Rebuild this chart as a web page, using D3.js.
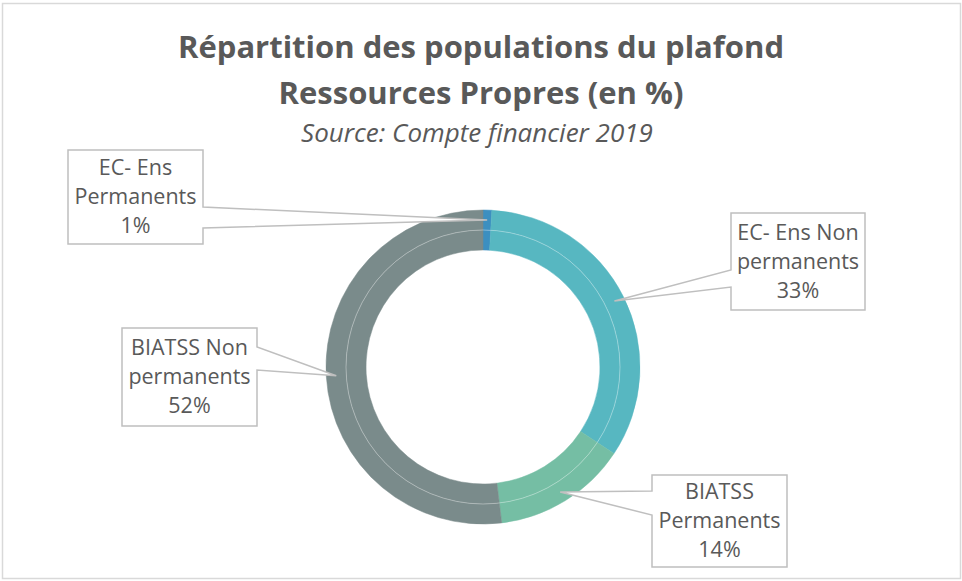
<!DOCTYPE html>
<html>
<head>
<meta charset="utf-8">
<script src="https://cdn.jsdelivr.net/npm/d3@7"></script>
<style>
  body { margin: 0; background: #fff; }
  svg text { font-family: "Open Sans", sans-serif; fill: #595959; }
</style>
</head>
<body>
<div id="donut"></div>
<script>
// data (percent of total)
var categories = ["EC- Ens Permanents", "EC- Ens Non permanents", "BIATSS Permanents", "BIATSS Non permanents"];
var values = [0.9, 33.4, 13.8, 51.9];
// label text as written in each callout
var labelLines = [["EC- Ens", "Permanents"], ["EC- Ens Non", "permanents"], ["BIATSS", "Permanents"], ["BIATSS Non", "permanents"]];
var colors = ["#3c8fc0", "#57b7c1", "#75bea4", "#7a8b8b"];

var titleLines = ["Répartition des populations du plafond", "Ressources Propres (en %)"];
var subtitle = "Source: Compte financier 2019";

// size of the chart
var totalWidth = 962,
  totalHeight = 581,
  cx = 483, cy = 367,
  outerR = 157, innerR = 117;

// callout boxes: position + where the pointer leaves the box
var callouts = [
  {x: 68, y: 150, w: 135, h: 94, side: "right", b1: 57, b2: 78},
  {x: 731, y: 213, w: 134, h: 97, side: "left", b1: 57, b2: 74},
  {x: 652, y: 475, w: 135, h: 92, side: "left", b1: 16, b2: 40},
  {x: 122, y: 328, w: 135, h: 98, side: "right", b1: 19, b2: 42}
];

var svg = d3.select("#donut").append("svg")
    .attr("width", totalWidth)
    .attr("height", totalHeight);

// chart frame
svg.append("rect")
    .attr("x", 2.5).attr("y", 3.5)
    .attr("width", 958).attr("height", 575)
    .attr("fill", "#fff")
    .attr("stroke", "#d9d9d9")
    .attr("stroke-width", 1.5);

// titles
svg.selectAll(".title")
    .data(titleLines)
  .enter().append("text")
    .attr("class", "title")
    .attr("x", 481)
    .attr("y", (function(d, i) { return 58 + i * 46; }))
    .attr("text-anchor", "middle")
    .style("font-size", "31px")
    .style("font-weight", "bold")
    .text((function(d) { return d; }));

svg.append("text")
    .attr("x", 477)
    .attr("y", 142)
    .attr("text-anchor", "middle")
    .style("font-size", "26px")
    .style("font-style", "italic")
    .text(subtitle);

var total = d3.sum(values);
var pct = d3.format(".0%");

var pie = d3.pie()
    .sort(null)
    .value((function(d) { return d; }));

var arcs = pie(values);

var g = svg.append("g")
    .attr("transform", "translate(" + cx + "," + cy + ")");

// two rings of the same series (outer + inner), like the original
var midR = (outerR + innerR) / 2;
var rings = [[midR, outerR], [innerR, midR]];

rings.forEach((function(r) {
  var arc = d3.arc().innerRadius(r[0]).outerRadius(r[1]);
  g.selectAll(null)
      .data(arcs)
    .enter().append("path")
      .attr("d", arc)
      .attr("fill", (function(d, i) { return colors[i]; }))
      .attr("stroke", (function(d, i) { return colors[i]; }))
      .attr("stroke-width", 0.5);
}));

// faint line between the two rings
g.append("circle")
    .attr("r", midR)
    .attr("fill", "none")
    .attr("stroke", "#fff")
    .attr("stroke-opacity", 0.35)
    .attr("stroke-width", 1);

// pointer tips sit at the centre of the outer ring
var tipArc = d3.arc().innerRadius(midR).outerRadius(outerR);

arcs.forEach((function(a, i) {
  var c = callouts[i];
  var t = tipArc.centroid(a);
  var tx = cx + t[0], ty = cy + t[1];
  var p;
  if (c.side === "right") {
    p = "M" + c.x + "," + c.y + "H" + (c.x + c.w) + "V" + (c.y + c.b1)
      + "L" + tx + "," + ty + "L" + (c.x + c.w) + "," + (c.y + c.b2)
      + "V" + (c.y + c.h) + "H" + c.x + "Z";
  } else {
    p = "M" + c.x + "," + c.y + "H" + (c.x + c.w) + "V" + (c.y + c.h)
      + "H" + c.x + "V" + (c.y + c.b2) + "L" + tx + "," + ty
      + "L" + c.x + "," + (c.y + c.b1) + "Z";
  }
  svg.append("path")
      .attr("d", p)
      .attr("fill", "#fff")
      .attr("stroke", "#bfbfbf")
      .attr("stroke-width", 1.5)
      .attr("stroke-linejoin", "miter");

  var lines = labelLines[i].concat([pct(values[i] / total)]);
  var midY = c.y + c.h / 2 + 7;
  svg.append("g").selectAll("text")
      .data(lines)
    .enter().append("text")
      .attr("x", c.x + c.w / 2)
      .attr("y", (function(d, j) { return midY + (j - 1) * 29; }))
      .attr("text-anchor", "middle")
      .style("font-size", "21.5px")
      .text((function(d) { return d; }));
}));
</script>
</body>
</html>
